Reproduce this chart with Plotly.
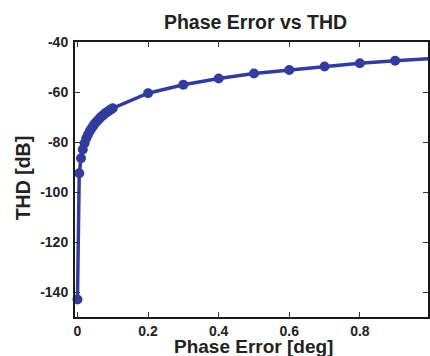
import plotly.graph_objects as go

phase_error = [0, 0.005, 0.01, 0.015, 0.02, 0.025, 0.03, 0.035, 0.04, 0.045, 0.05,
               0.055, 0.06, 0.065, 0.07, 0.075, 0.08, 0.085, 0.09, 0.095, 0.1,
               0.2, 0.3, 0.4, 0.5, 0.6, 0.7, 0.8, 0.9, 1.0]
thd_db = [-143, -92.5, -86.5, -83, -80.5, -78.5, -77, -75.6, -74.5, -73.5, -72.5,
          -71.7, -71, -70.2, -69.6, -69, -68.4, -67.9, -67.4, -67, -66.5,
          -60.5, -57.1, -54.6, -52.6, -51.2, -49.8, -48.5, -47.5, -46.6]
x_ticks = [0, 0.2, 0.4, 0.6, 0.8, 1.0]
x_tick_labels = ["0", "0.2", "0.4", "0.6", "0.8", "1"]
y_ticks = [-140, -120, -100, -80, -60, -40]
y_tick_labels = ["-140", "-120", "-100", "-80", "-60", "-40"]

color = "#313c9c"
font = "Liberation Sans, Arial, sans-serif"

fig = go.Figure()
fig.add_trace(go.Scatter(
    x=phase_error, y=thd_db, mode="lines+markers",
    line=dict(color=color, width=3.5),
    marker=dict(color=color, size=10),
    cliponaxis=False, showlegend=False,
))

axis_common = dict(
    showgrid=False, zeroline=False, showline=True, linecolor="#1a1a1a", linewidth=2,
    mirror="ticks", ticks="inside", ticklen=5, tickwidth=1, tickcolor="#333",
    tickfont=dict(family=font, size=14, color="#222"),
)

fig.update_xaxes(range=[-0.007, 0.993], tickvals=x_ticks,
                 ticktext=["<b>%s</b>" % t for t in x_tick_labels], **axis_common)
fig.update_yaxes(range=[-150, -40], tickvals=y_ticks,
                 ticktext=["<b>%s</b>" % t for t in y_tick_labels],
                 ticklabelstandoff=2, **axis_common)

fig.update_layout(
    width=430, height=356,
    margin=dict(l=75, r=0, t=42, b=39),
    paper_bgcolor="white", plot_bgcolor="white",
    font=dict(family=font, color="#222"),
    title=dict(text="<b>Phase Error vs THD</b>", x=255.5/430, xanchor="center",
               y=1 - 22/356, yanchor="middle", yref="container",
               font=dict(family=font, size=19.5, color="#222")),
    annotations=[
        dict(text="<b>Phase Error [deg]</b>", xref="paper", yref="paper",
             x=(255 - 75) / 355, y=-(346.5 - 317) / 275, xanchor="center", yanchor="middle",
             showarrow=False, font=dict(family=font, size=19, color="#222")),
        dict(text="<b>THD [dB]</b>", xref="paper", yref="paper",
             x=-(75 - 23) / 355, y=(317 - 178) / 275, xanchor="center", yanchor="middle",
             textangle=-90, showarrow=False, font=dict(family=font, size=19.5, color="#222")),
    ],
)

fig.write_html("out.html", config={"displayModeBar": False},
               post_script="document.body.style.margin='0';document.body.style.overflow='hidden';")
